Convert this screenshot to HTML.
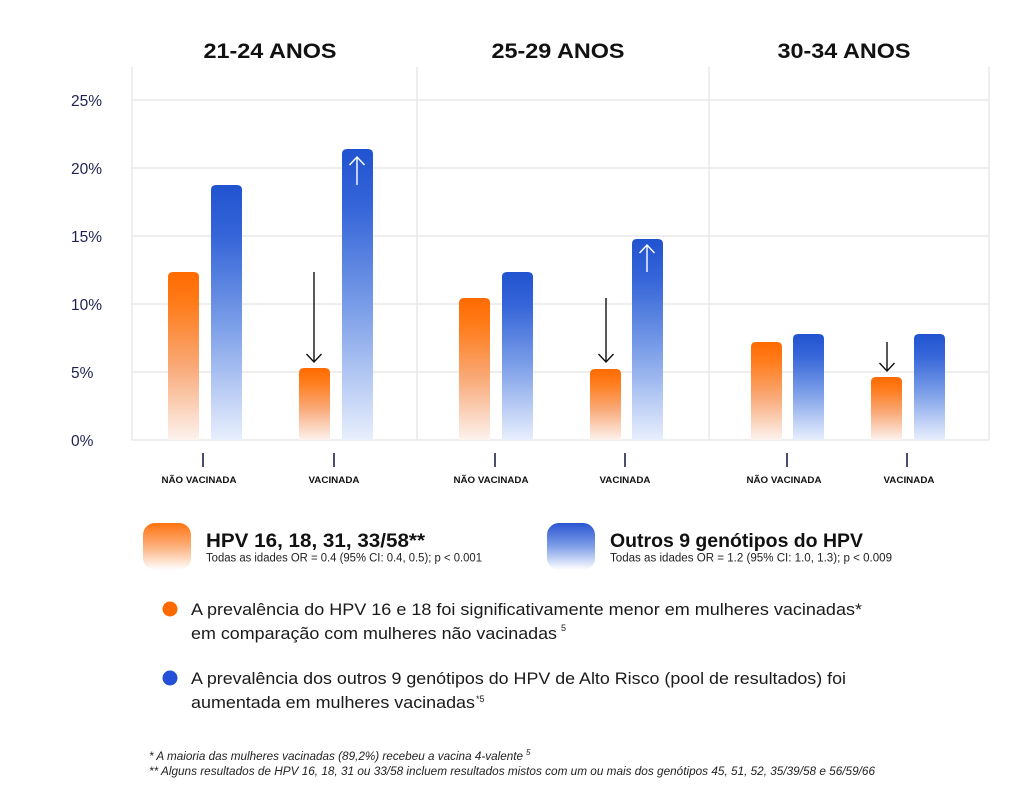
<!DOCTYPE html>
<html>
<head>
<meta charset="utf-8">
<style>
html,body{margin:0;padding:0;background:#fff;}
svg{display:block;}
text{font-family:"Liberation Sans","DejaVu Sans",sans-serif;}
</style>
</head>
<body>
<svg width="1024" height="810" viewBox="0 0 1024 810" xmlns="http://www.w3.org/2000/svg">
<defs>
<linearGradient id="og" x1="0" y1="0" x2="0" y2="1">
<stop offset="0" stop-color="#ff6a00"/>
<stop offset="0.2" stop-color="#ff7d1c"/>
<stop offset="0.55" stop-color="#f9a774"/>
<stop offset="0.85" stop-color="#fbd9c6"/>
<stop offset="1" stop-color="#fdf3ee"/>
</linearGradient>
<linearGradient id="bg" x1="0" y1="0" x2="0" y2="1">
<stop offset="0" stop-color="#2153d0"/>
<stop offset="0.2" stop-color="#3565d8"/>
<stop offset="0.55" stop-color="#7b9ee8"/>
<stop offset="0.85" stop-color="#c4d4f6"/>
<stop offset="1" stop-color="#e8effd"/>
</linearGradient>
<linearGradient id="ol" x1="0" y1="0" x2="0" y2="1">
<stop offset="0" stop-color="#ff7410"/>
<stop offset="0.5" stop-color="#fcb07c"/>
<stop offset="1" stop-color="#ffffff"/>
</linearGradient>
<linearGradient id="bl" x1="0" y1="0" x2="0" y2="1">
<stop offset="0" stop-color="#2a55d0"/>
<stop offset="0.5" stop-color="#7f9fe8"/>
<stop offset="1" stop-color="#ffffff"/>
</linearGradient>
</defs>

<!-- Titles -->
<text x="270" y="58" font-size="21" font-weight="bold" text-anchor="middle" fill="#111" textLength="133" lengthAdjust="spacingAndGlyphs">21-24 ANOS</text>
<text x="558" y="58" font-size="21" font-weight="bold" text-anchor="middle" fill="#111" textLength="133" lengthAdjust="spacingAndGlyphs">25-29 ANOS</text>
<text x="844" y="58" font-size="21" font-weight="bold" text-anchor="middle" fill="#111" textLength="133" lengthAdjust="spacingAndGlyphs">30-34 ANOS</text>

<!-- Grid -->
<g stroke="#e9e9e9" stroke-width="1.5" fill="none">
<line x1="132" y1="100" x2="989" y2="100"/>
<line x1="132" y1="168" x2="989" y2="168"/>
<line x1="132" y1="236" x2="989" y2="236"/>
<line x1="132" y1="304" x2="989" y2="304"/>
<line x1="132" y1="372" x2="989" y2="372"/>
<line x1="132" y1="440" x2="989" y2="440"/>
<line x1="132" y1="67" x2="132" y2="440"/>
<line x1="417" y1="67" x2="417" y2="440"/>
<line x1="709" y1="67" x2="709" y2="440"/>
<line x1="989" y1="67" x2="989" y2="440"/>
</g>

<!-- Y labels -->
<g font-size="15.5" fill="#1f2152">
<text x="71" y="106">25%</text>
<text x="71" y="174">20%</text>
<text x="71" y="242">15%</text>
<text x="71" y="310">10%</text>
<text x="71" y="378">5%</text>
<text x="71" y="446">0%</text>
</g>

<!-- Bars -->
<path d="M168,440 V277 Q168,272 173,272 H194 Q199,272 199,277 V440 Z" fill="url(#og)"/>
<path d="M211,440 V190 Q211,185 216,185 H237 Q242,185 242,190 V440 Z" fill="url(#bg)"/>
<path d="M299,440 V373 Q299,368 304,368 H325 Q330,368 330,373 V440 Z" fill="url(#og)"/>
<path d="M342,440 V154 Q342,149 347,149 H368 Q373,149 373,154 V440 Z" fill="url(#bg)"/>

<path d="M459,440 V303 Q459,298 464,298 H485 Q490,298 490,303 V440 Z" fill="url(#og)"/>
<path d="M502,440 V277 Q502,272 507,272 H528 Q533,272 533,277 V440 Z" fill="url(#bg)"/>
<path d="M590,440 V374 Q590,369 595,369 H616 Q621,369 621,374 V440 Z" fill="url(#og)"/>
<path d="M632,440 V244 Q632,239 637,239 H658 Q663,239 663,244 V440 Z" fill="url(#bg)"/>

<path d="M751,440 V347 Q751,342 756,342 H777 Q782,342 782,347 V440 Z" fill="url(#og)"/>
<path d="M793,440 V339 Q793,334 798,334 H819 Q824,334 824,339 V440 Z" fill="url(#bg)"/>
<path d="M871,440 V382 Q871,377 876,377 H897 Q902,377 902,382 V440 Z" fill="url(#og)"/>
<path d="M914,440 V339 Q914,334 919,334 H940 Q945,334 945,339 V440 Z" fill="url(#bg)"/>

<!-- Arrows -->
<g stroke="#111" stroke-width="1.4" fill="none">
<line x1="314" y1="272" x2="314" y2="362"/>
<polyline points="306.5,354 314,362 321.5,354"/>
<line x1="606" y1="298" x2="606" y2="362"/>
<polyline points="598.5,354 606,362 613.5,354"/>
<line x1="887" y1="342" x2="887" y2="371"/>
<polyline points="879.5,363 887,371 894.5,363"/>
</g>
<g stroke="#fff" stroke-width="1.4" fill="none">
<line x1="357" y1="157" x2="357" y2="185"/>
<polyline points="349.5,165 357,157 364.5,165"/>
<line x1="647" y1="245" x2="647" y2="272"/>
<polyline points="639.5,253 647,245 654.5,253"/>
</g>

<!-- Ticks -->
<g stroke="#1e2050" stroke-width="1.6">
<line x1="203" y1="453" x2="203" y2="467"/>
<line x1="334" y1="453" x2="334" y2="467"/>
<line x1="495" y1="453" x2="495" y2="467"/>
<line x1="625" y1="453" x2="625" y2="467"/>
<line x1="787" y1="453" x2="787" y2="467"/>
<line x1="907" y1="453" x2="907" y2="467"/>
</g>
<g font-size="9.5" font-weight="bold" fill="#111" text-anchor="middle">
<text x="199" y="483" textLength="75" lengthAdjust="spacingAndGlyphs">NÃO VACINADA</text>
<text x="334" y="483" textLength="51" lengthAdjust="spacingAndGlyphs">VACINADA</text>
<text x="491" y="483" textLength="75" lengthAdjust="spacingAndGlyphs">NÃO VACINADA</text>
<text x="625" y="483" textLength="51" lengthAdjust="spacingAndGlyphs">VACINADA</text>
<text x="784" y="483" textLength="75" lengthAdjust="spacingAndGlyphs">NÃO VACINADA</text>
<text x="909" y="483" textLength="51" lengthAdjust="spacingAndGlyphs">VACINADA</text>
</g>

<!-- Legend -->
<rect x="143" y="523" width="48" height="47" rx="12" fill="url(#ol)"/>
<text x="206" y="547" font-size="19.5" font-weight="bold" fill="#111" textLength="219" lengthAdjust="spacingAndGlyphs">HPV 16, 18, 31, 33/58**</text>
<text x="206" y="561.5" font-size="11.5" fill="#222" textLength="276" lengthAdjust="spacingAndGlyphs">Todas as idades OR = 0.4 (95% CI: 0.4, 0.5); p &lt; 0.001</text>

<rect x="547" y="523" width="48" height="47" rx="12" fill="url(#bl)"/>
<text x="610" y="547" font-size="19.5" font-weight="bold" fill="#111" textLength="253" lengthAdjust="spacingAndGlyphs">Outros 9 genótipos do HPV</text>
<text x="610" y="561.5" font-size="11.5" fill="#222" textLength="282" lengthAdjust="spacingAndGlyphs">Todas as idades OR = 1.2 (95% CI: 1.0, 1.3); p &lt; 0.009</text>

<!-- Bullets -->
<circle cx="170" cy="609" r="7.5" fill="#ff6a00"/>
<text x="191" y="615" font-size="17" fill="#1a1a1a" textLength="671" lengthAdjust="spacingAndGlyphs">A prevalência do HPV 16 e 18 foi significativamente menor em mulheres vacinadas*</text>
<text x="191" y="639" font-size="17" fill="#1a1a1a" textLength="366" lengthAdjust="spacingAndGlyphs">em comparação com mulheres não vacinadas</text>
<text x="561" y="631" font-size="9" fill="#1a1a1a">5</text>

<circle cx="170" cy="678" r="7.5" fill="#2350d6"/>
<text x="191" y="684" font-size="17" fill="#1a1a1a" textLength="655" lengthAdjust="spacingAndGlyphs">A prevalência dos outros 9 genótipos do HPV de Alto Risco (pool de resultados) foi</text>
<text x="191" y="708" font-size="17" fill="#1a1a1a" textLength="284" lengthAdjust="spacingAndGlyphs">aumentada em mulheres vacinadas</text>
<text x="476" y="702" font-size="9" fill="#1a1a1a">*5</text>

<!-- Footnotes -->
<text x="149" y="760" font-size="11.5" font-style="italic" fill="#222" textLength="374" lengthAdjust="spacingAndGlyphs">* A maioria das mulheres vacinadas (89,2%) recebeu a vacina 4-valente</text>
<text x="526" y="755" font-size="8" font-style="italic" fill="#222">5</text>
<text x="149" y="775" font-size="11.5" font-style="italic" fill="#222" textLength="726" lengthAdjust="spacingAndGlyphs">** Alguns resultados de HPV 16, 18, 31 ou 33/58 incluem resultados mistos com um ou mais dos genótipos 45, 51, 52, 35/39/58 e 56/59/66</text>
</svg>
</body>
</html>
